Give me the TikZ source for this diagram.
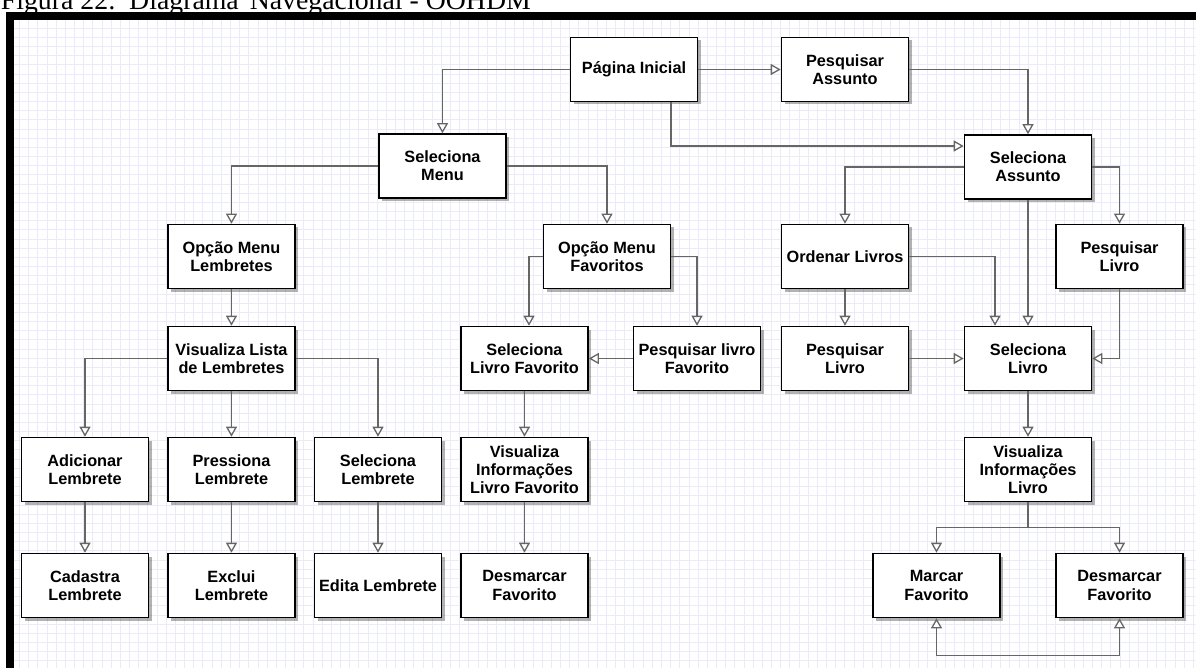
\documentclass[tikz,border=0pt]{standalone}
\usepackage{fontspec}
\setmainfont{Liberation Sans}
\newfontfamily\capfont{Liberation Serif}
\usetikzlibrary{arrows.meta,shadows,calc}

\definecolor{gridc}{HTML}{EAEAF8}
\definecolor{linkc}{HTML}{666666}

\tikzset{
  screen/.style={draw=black, line width=1.6pt, fill=white,
    minimum width=127pt, minimum height=64pt, inner sep=2pt, align=center,
    font=\fontsize{16.3}{18.3}\selectfont\bfseries,
    drop shadow={shadow xshift=3pt, shadow yshift=-3pt, opacity=0.3, fill=black}},
  opentip/.tip={Triangle[length=10pt,width=11pt,fill=white,line width=1.3pt]},
  link/.style={draw=linkc, line width=1.3pt, -opentip},
  twoway/.style={draw=linkc, line width=1.3pt, opentip-opentip},
  gridline/.style={draw=gridc, line width=0.9pt},
}

\begin{document}
\begin{tikzpicture}[x=1pt,y=-1pt]
\useasboundingbox (0,0) rectangle (1196,668);
\clip (0,0) rectangle (1196,668);

% caption above the frame
\node[anchor=base west, inner sep=0pt, font=\capfont\fontsize{27.8}{30}\selectfont]
  (caption) at (0.7,10) {Figura 22:\hspace{4pt} Diagrama\hspace{4pt} Navegacional - OOHDM};

% squared paper background
\begin{scope}
  \clip (14,20) rectangle (1196,668);
  \foreach \i in {0,...,131} {
    \draw[gridline] ({1.2+9.17*\i},20) -- ({1.2+9.17*\i},668);
  }
  \foreach \j in {0,...,73} {
    \draw[gridline] (14,{0.6+9.17*\j}) -- (1196,{0.6+9.17*\j});
  }
\end{scope}

% frame bars
\fill[black] (6,12) rectangle (1196,20);
\fill[black] (6,12) rectangle (14,668);

% screens
\node[screen] (pi)   at (634,69.5)  {Página Inicial};
\node[screen] (pa)   at (845,69.5)  {Pesquisar\\Assunto};
\node[screen] (sm)   at (442.5,166) {Seleciona\\Menu};
\node[screen] (sa)   at (1028,167)  {Seleciona\\Assunto};
\node[screen] (oml)  at (231.5,256.5) {Opção Menu\\Lembretes};
\node[screen] (omf)  at (607,256.5) {Opção Menu\\Favoritos};
\node[screen] (ol)   at (845,256.5) {Ordenar Livros};
\node[screen] (plr)  at (1119.5,256.5) {Pesquisar\\Livro};
\node[screen] (vll)  at (231.5,358.5) {Visualiza Lista\\de Lembretes};
\node[screen] (slf)  at (524.5,358.5) {Seleciona\\Livro Favorito};
\node[screen] (plf)  at (697,358.5) {Pesquisar livro\\Favorito};
\node[screen] (plm)  at (845,358.5) {Pesquisar\\Livro};
\node[screen] (sl)   at (1028,358.5) {Seleciona\\Livro};
\node[screen] (al)   at (85,469.5)  {Adicionar\\Lembrete};
\node[screen] (prl)  at (231.5,469.5) {Pressiona\\Lembrete};
\node[screen] (sel)  at (378,469.5) {Seleciona\\Lembrete};
\node[screen] (vilf) at (524.5,469.5) {Visualiza\\Informações\\Livro Favorito};
\node[screen] (vil)  at (1028,469.5) {Visualiza\\Informações\\Livro};
\node[screen] (cl)   at (85,585.5)  {Cadastra\\Lembrete};
\node[screen] (el)   at (231.5,585.5) {Exclui\\Lembrete};
\node[screen] (edl)  at (378,585.5) {Edita Lembrete};
\node[screen] (dfm)  at (524.5,585.5) {Desmarcar\\Favorito};
\node[screen] (mf)   at (936.5,585.5) {Marcar\\Favorito};
\node[screen] (dfr)  at (1119.5,585.5) {Desmarcar\\Favorito};

% navigation links
\draw[link] (pi.west) -| (sm.north);
\draw[link] (pi.east) -- (pa.west);
\draw[link] ($(pi.south)+(37,0)$) |- ($(sa.west)+(0,-21)$);
\draw[link] (pa.east) -| (sa.north);
\draw[link] (sm.west) -| (oml.north);
\draw[link] (sm.east) -| (omf.north);
\draw[link] (sa.west) -| (ol.north);
\draw[link] (sa.east) -| (plr.north);
\draw[link] (sa.south) -- (sl.north);

\draw[link] (oml.south) -- (vll.north);
\draw[link] (vll.west) -| (al.north);
\draw[link] (vll.south) -- (prl.north);
\draw[link] (vll.east) -| (sel.north);
\draw[link] (al.south) -- (cl.north);
\draw[link] (prl.south) -- (el.north);
\draw[link] (sel.south) -- (edl.north);

\draw[link] (omf.west) -| ($(slf.north)+(4.5,0)$);
\draw[link] (omf.east) -| (plf.north);
\draw[link] (plf.west) -- (slf.east);
\draw[link] (slf.south) -- (vilf.north);
\draw[link] (vilf.south) -- (dfm.north);

\draw[link] (ol.south) -- (plm.north);
\draw[link] (ol.east) -| ($(sl.north)+(-33,0)$);
\draw[link] (plr.south) |- (sl.east);
\draw[link] (plm.east) -- (sl.west);
\draw[link] (sl.south) -- (vil.north);

\draw[link] (vil.south) -- ++(0,25) -| (mf.north);
\draw[link] (vil.south) -- ++(0,25) -| (dfr.north);
\draw[twoway] (mf.south) -- ++(0,37) -| (dfr.south);
\end{tikzpicture}
\end{document}
